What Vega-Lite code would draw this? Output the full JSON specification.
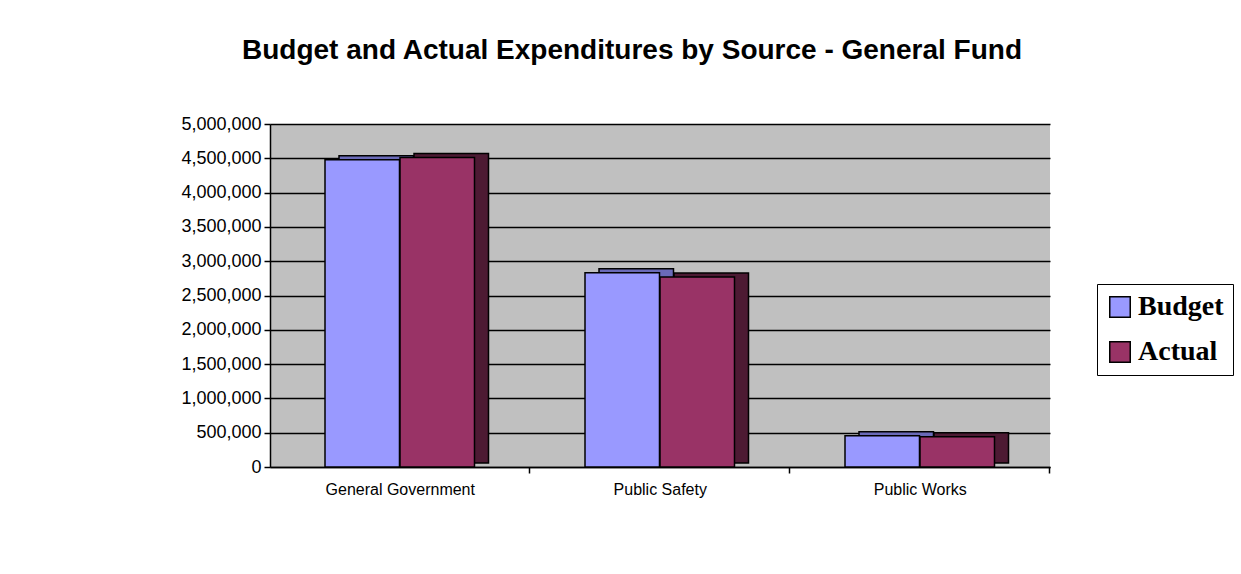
{
  "$schema": "https://vega.github.io/schema/vega-lite/v6.json",
  "autosize": "none",
  "width": 780,
  "height": 343,
  "padding": {"left": 270, "top": 124, "right": 191, "bottom": 107},
  "background": "white",
  "title": {
    "text": "Budget and Actual Expenditures by Source - General Fund",
    "font": "Liberation Sans",
    "fontSize": 28,
    "fontWeight": "bold",
    "color": "black",
    "anchor": "middle",
    "frame": "group",
    "dx": -28,
    "offset": 50
  },
  "data": {
    "values": [
      {"category": "General Government", "series": "Budget", "amount": 4480000},
      {"category": "General Government", "series": "Actual", "amount": 4510000},
      {"category": "Public Safety", "series": "Budget", "amount": 2830000},
      {"category": "Public Safety", "series": "Actual", "amount": 2770000},
      {"category": "Public Works", "series": "Budget", "amount": 455000},
      {"category": "Public Works", "series": "Actual", "amount": 440000}
    ]
  },
  "encoding": {
    "y": {
      "field": "amount",
      "type": "quantitative",
      "scale": {"domain": [0, 5000000], "nice": false},
      "axis": {
        "title": null,
        "values": [0, 500000, 1000000, 1500000, 2000000, 2500000, 3000000, 3500000, 4000000, 4500000, 5000000],
        "format": ",d",
        "labelFont": "Liberation Sans",
        "labelFontSize": 18,
        "labelColor": "black",
        "labelPadding": 3,
        "domainColor": "black",
        "domainWidth": 1.5,
        "tickColor": "black",
        "tickWidth": 1.5,
        "tickSize": 6,
        "grid": true,
        "gridColor": "black",
        "gridWidth": 1.5,
        "gridOpacity": 1
      }
    }
  },
  "layer": [
    {
      "transform": [{"filter": "datum.series === 'Budget'"}],
      "mark": {"type": "bar", "yOffset": -4, "fill": "#6A6AB8", "stroke": "black", "strokeWidth": 1.5},
      "encoding": {
        "x": {"field": "category", "type": "nominal", "sort": null,
              "scale": {"paddingInner": 0.7135, "paddingOuter": 0.35675, "align": 0.372},
              "axis": null}
      }
    },
    {
      "transform": [{"filter": "datum.series === 'Actual'"}],
      "mark": {"type": "bar", "yOffset": -4, "fill": "#4D1A33", "stroke": "black", "strokeWidth": 1.5},
      "encoding": {
        "x": {"field": "category", "type": "nominal", "sort": null,
              "scale": {"paddingInner": 0.7135, "paddingOuter": 0.35675, "align": 0.7763},
              "axis": null}
      }
    },
    {
      "transform": [{"filter": "datum.series === 'Budget'"}],
      "mark": {"type": "bar", "stroke": "black", "strokeWidth": 1.5},
      "encoding": {
        "x": {"field": "category", "type": "nominal", "sort": null,
              "scale": {"paddingInner": 0.7135, "paddingOuter": 0.35675, "align": 0.2965},
              "axis": {
                "title": null,
                "labelAngle": 0,
                "labelFont": "Liberation Sans",
                "labelFontSize": 16,
                "labelColor": "black",
                "labelPadding": 8,
                "domainColor": "black",
                "domainWidth": 1.5,
                "tickColor": "black",
                "tickWidth": 1.5,
                "tickSize": 6,
                "bandPosition": 1,
                "tickOffset": 130,
                "labelOffset": -92.5
              }},
        "color": {
          "field": "series",
          "type": "nominal",
          "scale": {"domain": ["Budget", "Actual"], "range": ["#9999FF", "#993366"]},
          "legend": {
            "title": null,
            "orient": "none",
            "legendX": 827,
            "legendY": 160,
            "symbolType": "square",
            "symbolSize": 420,
            "symbolStrokeColor": "black",
            "symbolStrokeWidth": 1.5,
            "symbolOpacity": 1,
            "labelFont": "Liberation Serif",
            "labelFontSize": 28,
            "labelFontWeight": "bold",
            "labelColor": "black",
            "rowPadding": 17,
            "strokeColor": "black",
            "padding": 9,
            "labelOffset": 4
          }
        }
      }
    },
    {
      "transform": [{"filter": "datum.series === 'Actual'"}],
      "mark": {"type": "bar", "stroke": "black", "strokeWidth": 1.5},
      "encoding": {
        "x": {"field": "category", "type": "nominal", "sort": null,
              "scale": {"paddingInner": 0.7135, "paddingOuter": 0.35675, "align": 0.7008},
              "axis": null},
        "color": {"field": "series", "type": "nominal"}
      }
    }
  ],
  "resolve": {"scale": {"x": "independent"}, "axis": {"x": "independent"}},
  "config": {
    "view": {"fill": "#C0C0C0", "stroke": null}
  }
}
